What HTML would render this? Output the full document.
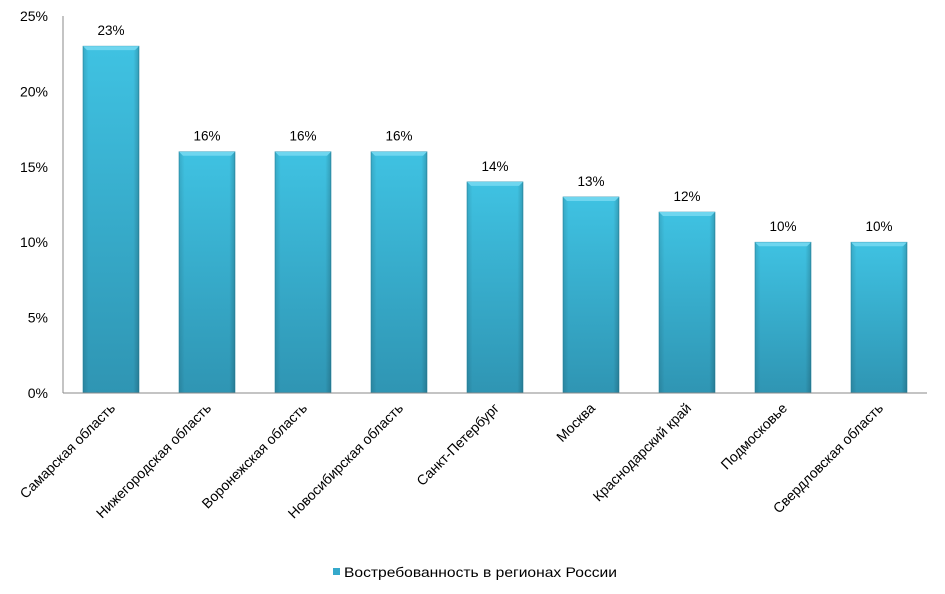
<!DOCTYPE html>
<html><head><meta charset="utf-8">
<style>
html,body{margin:0;padding:0;background:#fff;}
svg{display:block;font-family:"Liberation Sans",sans-serif;}
</style></head>
<body>
<svg id="chart" width="945" height="594" viewBox="0 0 945 594" xmlns="http://www.w3.org/2000/svg">
<defs>
<linearGradient id="barGrad" x1="0" y1="0" x2="0" y2="1">
<stop offset="0" stop-color="#3fc2e2"/>
<stop offset="1" stop-color="#2f95b3"/>
</linearGradient>
<linearGradient id="sideGrad" x1="0" y1="0" x2="1" y2="0">
<stop offset="0" stop-color="#000" stop-opacity="0.12"/>
<stop offset="0.1" stop-color="#000" stop-opacity="0"/>
<stop offset="0.9" stop-color="#000" stop-opacity="0"/>
<stop offset="1" stop-color="#000" stop-opacity="0.18"/>
</linearGradient>
</defs>
<g id="plot"></g>
<g>
<rect x="333" y="568" width="7" height="7" fill="#35a9cb"/>
<text x="344" y="577" font-size="14" textLength="273" lengthAdjust="spacingAndGlyphs" fill="#000">Востребованность в регионах России</text>
</g>
</svg>
<script>
const categories = ["Самарская область","Нижегородская область","Воронежская область","Новосибирская область","Санкт-Петербург","Москва","Краснодарский край","Подмосковье","Свердловская область"];
const values = [23,16,16,16,14,13,12,10,10];
const yTicks = [0,5,10,15,20,25];

const NS = "http://www.w3.org/2000/svg";
const plotG = document.getElementById("plot");
const plotLeft = 63, plotRight = 927, plotTop = 16, plotBottom = 393, yMax = 25;
const band = (plotRight-plotLeft)/categories.length;
const barW = 56;
function yScale(v){ return plotBottom - v/yMax*(plotBottom-plotTop); }
function xc(i){ return plotLeft + band*(i+0.5); }
function mk(tag, attrs){ const e=document.createElementNS(NS,tag); for(const k in attrs) e.setAttribute(k,attrs[k]); plotG.appendChild(e); return e; }

yTicks.forEach(t=>{
  const tx = mk("text",{x:48,y:yScale(t)+5,"text-anchor":"end","font-size":"14",fill:"#000"});
  
  
  tx.textContent = t + "%";
});
const ax = mk("line",{x1:plotLeft,y1:plotTop,x2:plotLeft,y2:plotBottom,stroke:"#888","stroke-width":1});



values.forEach((v,i)=>{
  const x0 = xc(i)-barW/2, y0 = yScale(v), h = plotBottom-y0;
  const r = mk("rect",{x:x0,y:y0,width:barW,height:h,fill:"url(#barGrad)",stroke:"#2a8aa6","stroke-width":0.6});
  
  
  const s = mk("rect",{x:x0,y:y0,width:barW,height:h,fill:"url(#sideGrad)"});
  
  
  const tp = mk("polygon",{points:`${x0},${y0} ${x0+barW},${y0} ${x0+barW-4},${y0+4} ${x0+4},${y0+4}`,fill:"#6fd6ef"});
  
  
  const lb = mk("text",{x:xc(i),y:y0-11,"text-anchor":"middle","font-size":"13.5",fill:"#000"});
  
  
  lb.textContent = v + "%";
  const cx = xc(i)+5, cy = 409;
  const cl = mk("text",{x:cx,y:cy,"text-anchor":"end","font-size":"14",fill:"#000",transform:`rotate(-45 ${cx} ${cy})`});
  
  
  cl.textContent = categories[i];
});
const bx = mk("line",{x1:plotLeft,y1:plotBottom,x2:plotRight,y2:plotBottom,stroke:"#888","stroke-width":1});


</script>
</body></html>
